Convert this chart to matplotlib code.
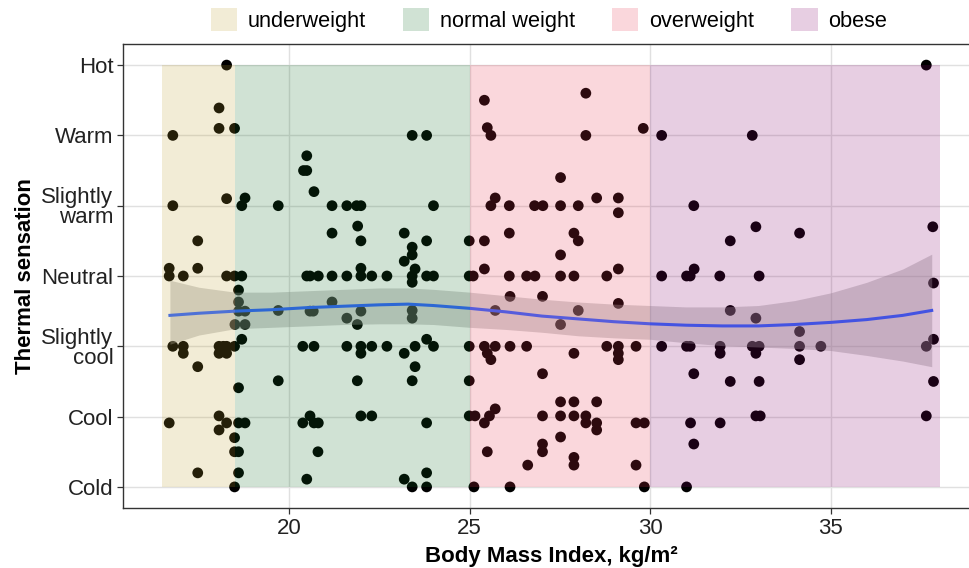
import matplotlib.pyplot as plt
from matplotlib.patches import Patch, Rectangle

# BMI (x) and jittered thermal sensation vote (y, 1 = Cold ... 7 = Hot)
bmi = [
    18.27, 37.65,
    18.06, 18.06, 18.49, 16.78, 23.41, 23.81,
    20.49, 20.40, 20.49, 20.69,
    16.78, 18.27, 18.78, 18.69, 19.70, 21.19, 21.60, 21.87, 21.99,
    21.90, 21.19, 21.99, 23.19, 23.41, 23.41, 23.19, 23.49,
    17.47, 16.68, 17.47,
    16.68, 17.07, 18.27, 18.49, 18.69, 20.49, 20.58, 20.81, 21.19, 21.60,
    21.99, 21.99, 22.29, 22.71, 23.41, 23.41,
    18.60, 18.60, 18.60, 18.78, 19.70, 20.58, 20.67, 21.19, 21.60, 21.99,
    21.89, 23.41, 23.41, 18.50, 18.78, 18.69,
    16.78, 17.07, 17.07, 18.06, 18.18, 18.27, 18.49, 18.06, 18.27,
    20.38, 20.69, 21.60, 21.99, 21.99, 22.29, 22.71, 23.19, 23.49, 23.49,
    17.47, 18.60, 19.70, 21.89, 23.41,
    16.68, 18.06, 18.27, 18.06, 18.60, 18.78, 18.49, 18.49, 18.60, 17.47,
    18.60, 18.49,
    20.38, 20.58, 20.69, 20.81, 21.99, 22.29, 20.80, 20.49, 23.19, 23.41,
    24.00, 23.81, 23.81, 24.00, 24.99, 25.41, 24.99, 25.10, 25.41,
    25.41, 25.49, 25.59, 28.22, 28.22, 29.81, 30.32, 27.52,
    25.71, 25.59, 26.10, 26.80, 27.03, 27.52, 28.01, 28.52, 29.12, 29.12,
    31.21,
    26.10, 27.89, 28.01, 27.52,
    26.10, 26.58, 26.81, 27.52, 27.89, 28.80, 29.12, 30.32, 31.01, 31.11,
    31.22,
    26.12, 27.02, 25.71, 28.01, 27.52, 29.12,
    23.81, 24.00, 24.99, 24.99, 25.41, 25.49, 25.59, 25.71, 26.12, 26.58,
    27.89, 28.80, 29.12, 29.12, 29.12, 29.61, 30.32, 31.01, 31.11, 31.21,
    27.02,
    23.81, 24.99, 25.15, 25.41, 25.55, 25.71,
    27.02, 27.52, 27.89, 28.22, 28.22, 28.52, 28.52, 29.61, 29.84, 31.12,
    27.52, 27.89, 28.52, 27.52, 27.02, 27.02, 25.49, 31.21, 26.61, 27.89,
    27.89, 29.61, 23.81, 23.81, 25.12, 26.12, 29.84, 31.01,
    32.83, 32.93, 32.22, 34.14, 37.83, 31.93, 33.02, 37.85, 32.22, 32.93,
    34.14, 31.94, 31.94, 32.83, 33.02, 32.93, 34.14, 34.14, 34.73, 37.65,
    37.85, 32.22, 33.02, 37.85, 31.94, 32.93, 33.05, 37.65,
]
sensation = [
    7.00, 7.00,
    6.39, 6.10, 6.10, 6.00, 6.00, 6.00,
    5.71, 5.50, 5.50, 5.20,
    5.00, 5.10, 5.11, 5.00, 5.00, 5.00, 5.00, 5.00, 5.00,
    4.71, 4.61, 4.50, 4.61, 4.41, 4.30, 4.21, 4.10,
    4.50, 4.11, 4.11,
    4.00, 4.00, 4.00, 4.00, 4.00, 4.00, 4.00, 4.00, 4.00, 4.00,
    4.11, 4.00, 4.00, 4.00, 4.00, 3.91,
    3.80, 3.63, 3.50, 3.50, 3.51, 3.50, 3.50, 3.63, 3.40, 3.50,
    3.31, 3.51, 3.40, 3.31, 3.31, 3.10,
    3.00, 3.00, 2.90, 3.00, 3.00, 3.00, 3.00, 2.90, 2.90,
    3.00, 3.00, 3.00, 3.00, 2.90, 3.00, 3.00, 2.90, 3.00, 2.71,
    2.71, 2.41, 2.51, 2.51, 2.51,
    1.91, 2.01, 1.91, 1.81, 1.91, 1.91, 1.70, 1.50, 1.50, 1.20,
    1.20, 1.00,
    1.91, 2.01, 1.91, 1.91, 2.01, 2.01, 1.50, 1.11, 1.11, 1.00,
    5.00, 4.50, 4.00, 4.00, 4.50, 4.50, 4.00, 4.00, 4.10,
    6.50, 6.11, 6.00, 6.60, 6.00, 6.10, 6.00, 5.40,
    5.11, 5.00, 5.00, 5.00, 5.00, 5.00, 5.00, 5.11, 5.11, 4.90,
    5.00,
    4.61, 4.61, 4.50, 4.30,
    4.00, 4.00, 4.00, 4.00, 4.00, 4.00, 4.10, 4.00, 4.00, 4.00,
    4.10,
    3.71, 3.71, 3.51, 3.51, 3.31, 3.61,
    3.10, 3.00, 3.00, 2.51, 3.00, 2.90, 2.81, 3.00, 3.00, 3.00,
    2.90, 3.00, 3.00, 2.90, 2.81, 3.00, 3.00, 3.00, 3.00, 2.61,
    2.61,
    1.91, 2.01, 2.01, 1.91, 2.01, 2.11,
    2.01, 2.01, 2.01, 2.01, 1.91, 1.91, 1.81, 1.91, 1.91, 1.91,
    2.21, 2.21, 2.21, 1.71, 1.61, 1.50, 1.50, 1.61, 1.31, 1.42,
    1.31, 1.31, 1.20, 1.00, 1.00, 1.00, 1.00, 1.00,
    6.00, 4.70, 4.50, 4.61, 4.70, 4.00, 4.00, 3.90, 3.51, 3.40,
    3.21, 3.00, 2.90, 3.00, 3.00, 2.90, 3.00, 2.81, 3.00, 3.00,
    3.10, 2.50, 2.50, 2.50, 1.91, 2.01, 2.01, 2.01,
]

# loess fit and its confidence band
smooth_bmi = [16.7, 17.5, 18.5, 19.5, 20.5, 21.5, 22.5, 23.3, 24.0, 25.0,
              26.0, 27.0, 28.0, 29.0, 30.0, 31.0, 32.0, 33.0, 34.0, 35.0,
              36.0, 37.0, 37.8]
smooth_fit = [3.44, 3.47, 3.50, 3.52, 3.55, 3.57, 3.59, 3.60, 3.58, 3.54,
              3.49, 3.43, 3.39, 3.35, 3.32, 3.30, 3.29, 3.29, 3.31, 3.34,
              3.38, 3.44, 3.51]
smooth_upper = [3.94, 3.84, 3.77, 3.77, 3.79, 3.81, 3.83, 3.83, 3.81, 3.77,
                3.72, 3.67, 3.63, 3.60, 3.58, 3.56, 3.56, 3.58, 3.65, 3.76,
                3.91, 4.10, 4.31]
smooth_lower = [3.03, 3.16, 3.25, 3.27, 3.29, 3.31, 3.32, 3.32, 3.31, 3.27,
                3.24, 3.20, 3.15, 3.12, 3.10, 3.05, 3.01, 2.99, 2.97, 2.94,
                2.87, 2.79, 2.71]

# BMI categories
categories = ['underweight', 'normal weight', 'overweight', 'obese']
cat_edges = [16.48, 18.5, 25, 30, 38.03]
cat_colors = ['#BEA032', '#146E28', '#E63750', '#870A6E']

sensation_labels = ['Cold', 'Cool', 'Slightly\ncool', 'Neutral',
                    'Slightly\nwarm', 'Warm', 'Hot']

plt.rcParams['font.family'] = ['Liberation Sans', 'DejaVu Sans']

fig = plt.figure(figsize=(9.70, 5.68), dpi=100)
# panel runs slightly past the right edge, as in the cropped original
ax = fig.add_axes([123 / 970, 60 / 568, 856 / 970, 464 / 568])

# Points, then the smoother on top of them
ax.scatter(bmi, sensation, s=60, c='black', edgecolors='none', zorder=2)
ax.fill_between(smooth_bmi, smooth_lower, smooth_upper, color='#999999',
                alpha=0.4, linewidth=0, zorder=3)
ax.plot(smooth_bmi, smooth_fit, color='#3366FF', linewidth=2.2, zorder=3.5)

# Category shading drawn over everything with low alpha
for i, (name, col) in enumerate(zip(categories, cat_colors)):
    rect = Rectangle((cat_edges[i], 1), cat_edges[i + 1] - cat_edges[i], 6,
                     facecolor=col, alpha=0.2, edgecolor='none', zorder=4)
    ax.add_patch(rect)

ax.set_xlim(15.40, 39.11)
ax.set_ylim(0.7, 7.3)
ax.set_xticks([20, 25, 30, 35])
ax.set_yticks(range(1, 8))
ax.set_yticklabels(sensation_labels, linespacing=0.95)

# theme_bw look
ax.grid(True, color='#E0E0E0', linewidth=1.0, zorder=0)
ax.set_axisbelow(True)
for spine in ax.spines.values():
    spine.set_color('#333333')
    spine.set_linewidth(1.0)
ax.tick_params(axis='both', length=4, width=0.9, color='#333333',
               labelsize=16, labelcolor='#222222', pad=3)

ax.set_xlabel('Body Mass Index, kg/m²', fontsize=16, fontweight='bold',
              labelpad=5)
ax.set_ylabel('Thermal sensation', fontsize=16, fontweight='bold',
              labelpad=4)

# Legend at the top
handles = [Patch(facecolor=c, alpha=0.2, edgecolor='none') for c in cat_colors]
fig.legend(handles, categories, loc='center', ncol=4,
           bbox_to_anchor=(549 / 970, 1 - 20 / 568), frameon=False,
           fontsize=15.7, handlelength=1.2, handleheight=1.2,
           handletextpad=0.5, columnspacing=1.7, borderaxespad=0)

fig.savefig('out.png', dpi=100)
